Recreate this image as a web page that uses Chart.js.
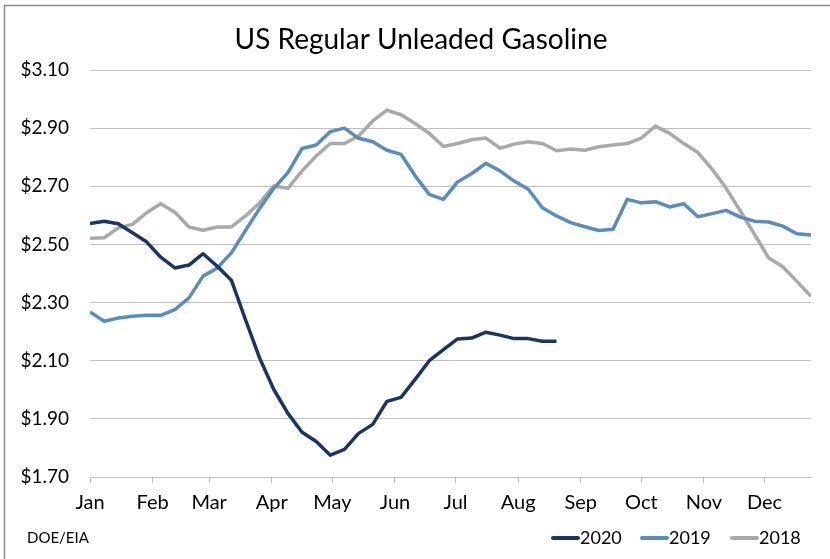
<!DOCTYPE html>
<html>
<head>
<meta charset="utf-8">
<script src="https://cdn.jsdelivr.net/npm/chart.js@4.4.1/dist/chart.umd.min.js"></script>
<style>
  html, body { margin: 0; padding: 0; background: #ffffff; }
  #wrap { width: 830px; height: 559px; position: relative; }
</style>
</head>
<body>
<div id="wrap"><canvas id="c" width="830" height="559"></canvas></div>
<script>
// ---- Data (weekly, x = day of year) ----
const weekDays = [0,7,14,21,28,35,42,49,56,63,70,77,84,91,98,105,112,119,126,133,140,147,154,161,168,175,182,189,196,203,210,217,224,231,238,245,252,259,266,273,280,287,294,301,308,315,322,329,336,343,350,357];
const monthLabels = ["Jan","Feb","Mar","Apr","May","Jun","Jul","Aug","Sep","Oct","Nov","Dec"];
const monthStartDays = [0,31,59,90,120,151,181,212,243,273,304,334];
const yTickValues = [1.70,1.90,2.10,2.30,2.50,2.70,2.90,3.10];
const seriesNames = ["2020","2019","2018"];

const prices2020 = [2.572,2.580,2.571,2.540,2.509,2.456,2.419,2.429,2.468,2.425,2.377,2.241,2.109,2.001,1.919,1.854,1.822,1.775,1.795,1.850,1.881,1.960,1.974,2.036,2.100,2.138,2.175,2.178,2.198,2.188,2.176,2.176,2.167,2.167];
const prices2019 = [2.268,2.236,2.247,2.253,2.256,2.256,2.276,2.316,2.391,2.419,2.471,2.548,2.624,2.693,2.747,2.830,2.842,2.888,2.900,2.865,2.853,2.824,2.810,2.736,2.672,2.655,2.715,2.744,2.779,2.753,2.718,2.690,2.626,2.598,2.575,2.561,2.548,2.552,2.655,2.643,2.647,2.629,2.640,2.595,2.606,2.617,2.594,2.580,2.577,2.563,2.537,2.532];
const prices2018 = [2.521,2.523,2.557,2.569,2.609,2.640,2.611,2.560,2.549,2.560,2.560,2.598,2.643,2.701,2.693,2.753,2.804,2.847,2.847,2.873,2.925,2.962,2.946,2.916,2.882,2.837,2.847,2.860,2.866,2.831,2.845,2.853,2.847,2.822,2.828,2.824,2.836,2.842,2.847,2.866,2.907,2.882,2.847,2.816,2.759,2.693,2.615,2.535,2.454,2.423,2.373,2.322];

const colors = ["#1b3561", "#5a8dbd", "#a9a9a9"];
const FONT = "Lato, 'Open Sans', sans-serif";

function toPoints(vals) {
  return vals.map((v, i) => ({ x: weekDays[i], y: v }));
}

const allSeries = [prices2020, prices2019, prices2018];
const datasets = allSeries.map((vals, k) => ({
  label: seriesNames[k],
  data: toPoints(vals),
  borderColor: colors[k],
  backgroundColor: colors[k],
  borderWidth: 3.5,
  pointRadius: 0,
  tension: 0,
  borderJoinStyle: 'round',
  borderCapStyle: 'butt',
  fill: false
}));

const decorPlugin = {
  id: 'decor',
  beforeDraw(chart) {
    const ctx = chart.ctx;
    ctx.save();
    ctx.fillStyle = '#ffffff';
    ctx.fillRect(0, 0, chart.width, chart.height);
    ctx.restore();
  },
  afterDraw(chart) {
    const ctx = chart.ctx;
    ctx.save();
    // outer border (left and top)
    ctx.strokeStyle = '#8a8a8a';
    ctx.lineWidth = 1.5;
    ctx.beginPath();
    ctx.moveTo(4.5, chart.height);
    ctx.lineTo(4.5, 5.5);
    ctx.lineTo(chart.width, 5.5);
    ctx.stroke();

    // title
    ctx.fillStyle = '#000000';
    ctx.font = "28px " + FONT;
    ctx.textAlign = 'center';
    ctx.textBaseline = 'middle';
    ctx.fillText("US Regular Unleaded Gasoline", 421, 40);

    // source
    ctx.font = "15px " + FONT;
    ctx.textAlign = 'left';
    ctx.fillText("DOE/EIA", 27, 538);

    // legend
    const legendX = [552, 641, 731];
    ctx.font = "18px " + FONT;
    chart.data.datasets.forEach((ds, i) => {
      const lx = legendX[i];
      ctx.strokeStyle = ds.borderColor;
      ctx.lineWidth = 4;
      ctx.lineCap = 'round';
      ctx.beginPath();
      ctx.moveTo(lx + 1, 538);
      ctx.lineTo(lx + 26, 538);
      ctx.stroke();
      ctx.fillStyle = '#000000';
      ctx.textAlign = 'left';
      ctx.fillText(ds.label, lx + 28, 538);
    });
    ctx.restore();
  }
};

new Chart(document.getElementById('c'), {
  type: 'line',
  data: { datasets },
  plugins: [decorPlugin],
  options: {
    responsive: false,
    animation: false,
    devicePixelRatio: 1,
    layout: { padding: { left: 0, top: 70, right: 19, bottom: 0 } },
    plugins: {
      legend: { display: false },
      title: { display: false },
      tooltip: { enabled: false }
    },
    scales: {
      x: {
        type: 'linear',
        min: 0,
        max: 357,
        afterBuildTicks(scale) {
          scale.ticks = monthStartDays.map(v => ({ value: v }));
        },
        afterFit(scale) { scale.height = 82; },
        ticks: {
          autoSkip: false,
          maxRotation: 0,
          padding: 8,
          color: '#000000',
          font: { family: FONT, size: 20 },
          callback(value) {
            const idx = monthStartDays.indexOf(value);
            return idx >= 0 ? monthLabels[idx] : '';
          }
        },
        grid: {
          drawOnChartArea: false,
          drawTicks: true,
          tickLength: 6,
          color: '#bfbfbf'
        },
        border: { display: true, color: '#bfbfbf', width: 1 }
      },
      y: {
        type: 'linear',
        min: 1.7,
        max: 3.1,
        afterBuildTicks(scale) {
          scale.ticks = yTickValues.map(v => ({ value: v }));
        },
        afterFit(scale) { scale.width = 90; },
        ticks: {
          padding: 21,
          color: '#000000',
          font: { family: FONT, size: 19 },
          callback(value) { return '$' + Number(value).toFixed(2); }
        },
        grid: {
          drawTicks: false,
          color: '#bfbfbf',
          lineWidth: 1
        },
        border: { display: false }
      }
    }
  }
});
</script>
</body>
</html>
